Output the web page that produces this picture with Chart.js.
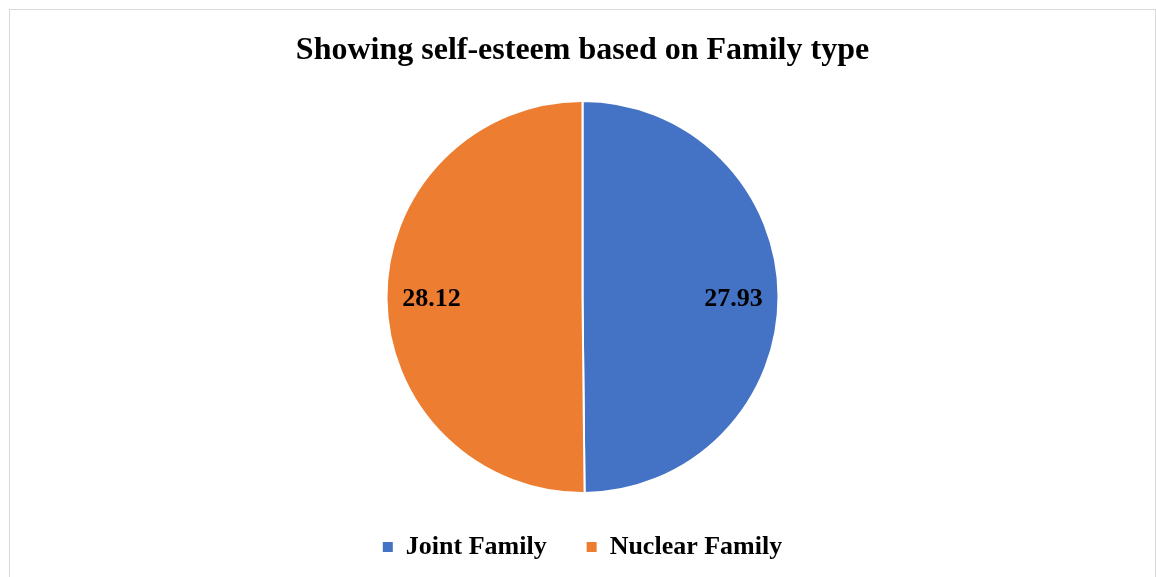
<!DOCTYPE html>
<html>
<head>
<meta charset="utf-8">
<script src="https://cdn.jsdelivr.net/npm/chart.js@4/dist/chart.umd.min.js"></script>
<style>
  html, body { margin: 0; padding: 0; background: #ffffff; overflow: hidden; width: 1156px; height: 577px; }
  #frame { position: absolute; left: 9px; top: 9px; width: 1145px; height: 600px; border: 1px solid #d9d9d9; background: #fff; }
  #chart { display: block; }
</style>
</head>
<body>
<div id="frame"><canvas id="chart" width="1145" height="567"></canvas></div>
<script>
const titleText = 'Showing self-esteem based on Family type';
const categories = ['Joint Family', 'Nuclear Family'];
const selfEsteem = [27.93, 28.12];

const sliceColors = ['#4472C4', '#ED7D31'];
const serif = '"Liberation Serif", "Times New Roman", serif';

const valueLabels = {
  id: 'valueLabels',
  afterDatasetsDraw(chart) {
    const ctx = chart.ctx;
    const meta = chart.getDatasetMeta(0);
    const data = chart.data.datasets[0].data;
    ctx.save();
    ctx.font = 'bold 26px ' + serif;
    ctx.fillStyle = '#000000';
    ctx.textAlign = 'center';
    ctx.textBaseline = 'middle';
    meta.data.forEach((arc, i) => {
      const p = arc.getProps(['x', 'y', 'startAngle', 'endAngle', 'outerRadius'], true);
      const mid = (p.startAngle + p.endAngle) / 2;
      const r = p.outerRadius * 0.77;
      ctx.fillText(data[i].toFixed(2), p.x + Math.cos(mid) * r, p.y + 2);
    });
    ctx.restore();
  }
};

new Chart(document.getElementById('chart'), {
  type: 'pie',
  data: {
    labels: categories,
    datasets: [{
      data: selfEsteem,
      backgroundColor: sliceColors,
      borderColor: '#ffffff',
      borderWidth: 2,
      hoverOffset: 0
    }]
  },
  options: {
    responsive: false,
    animation: false,
    layout: { padding: { top: 0, bottom: 7, left: 0, right: 0 } },
    plugins: {
      tooltip: { enabled: false },
      title: {
        display: true,
        text: titleText,
        color: '#000000',
        font: { family: serif, size: 32, weight: 'bold', lineHeight: 1.2 },
        padding: { top: 22, bottom: 29.6 }
      },
      legend: {
        position: 'bottom',
        labels: {
          color: '#000000',
          font: { family: serif, size: 26, weight: 'bold' },
          boxWidth: 10,
          boxHeight: 10,
          padding: 40,
          generateLabels(chart) {
            const items = Chart.overrides.pie.plugins.legend.labels.generateLabels(chart);
            items.forEach(it => { it.lineWidth = 0; it.strokeStyle = 'rgba(0,0,0,0)'; });
            return items;
          }
        }
      }
    }
  },
  plugins: [valueLabels]
});
</script>
</body>
</html>
